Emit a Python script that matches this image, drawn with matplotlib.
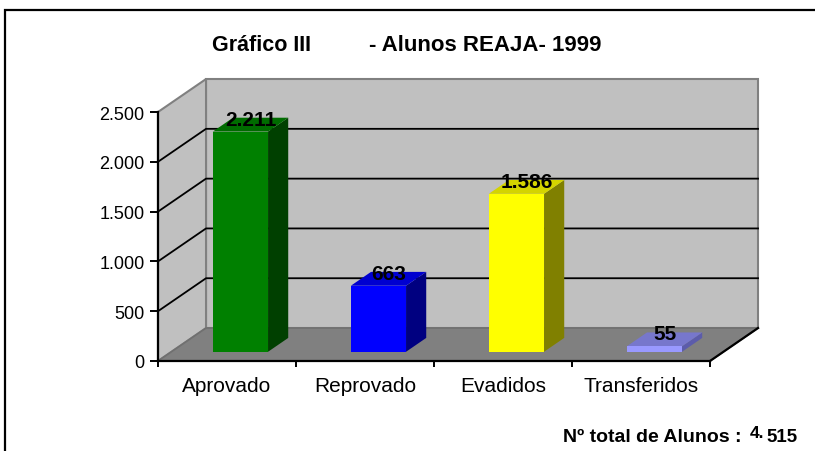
import numpy as np
import matplotlib
matplotlib.use("Agg")
from matplotlib import pyplot as plt
from matplotlib.patches import Polygon, Rectangle

plt.rcParams['font.family'] = ['Liberation Sans', 'DejaVu Sans']

# data
categories = ['Aprovado', 'Reprovado', 'Evadidos', 'Transferidos']
alunos = [2211, 663, 1586, 55]
yticks = [0, 500, 1000, 1500, 2000, 2500]
titulo_a = 'Gráfico III'
titulo_b = '- Alunos REAJA- 1999'

front_cols = ['#008000', '#0000ff', '#ffff00', '#9999ff']
top_cols = ['#006c00', '#0000d0', '#d4d400', '#7777cc']
side_cols = ['#004000', '#000080', '#808000', '#5c5cab']

# depth of the fake 3d box (in data units) and bar placement in it
DX, DY = 0.348, 331.0
d0, d1 = 0.28, 0.70
half_w = 0.2
ymax = 2500

fig = plt.figure(figsize=(8.15, 4.52), dpi=100)
ax = fig.add_axes([158 / 815, 90 / 452, 552 / 815, 249 / 452])
ax.set_xlim(0, len(categories))
ax.set_ylim(0, ymax)
ax.patch.set_visible(False)

n = len(categories)
# walls and floor
ax.add_patch(Polygon([(DX, DY), (n + DX, DY), (n + DX, ymax + DY), (DX, ymax + DY)],
                     closed=True, fc='#c0c0c0', ec='#808080', lw=1.5, clip_on=False, zorder=1))
ax.add_patch(Polygon([(0, 0), (DX, DY), (DX, ymax + DY), (0, ymax)],
                     closed=True, fc='#c0c0c0', ec='#808080', lw=1.5, clip_on=False, zorder=1))
ax.add_patch(Polygon([(0, 0), (n, 0), (n + DX, DY), (DX, DY)],
                     closed=True, fc='#808080', ec='#707070', lw=1.2, clip_on=False, zorder=1.5))
ax.plot([n, n + DX], [0, DY], color='black', lw=1.6, clip_on=False, zorder=2)

for v in yticks[1:-1]:
    ax.plot([0, DX, n + DX], [v, v + DY, v + DY], color='black', lw=1.3,
            clip_on=False, zorder=1.2)

# bars
for i, v in enumerate(alunos):
    xa = i + 0.5 - half_w
    xb = i + 0.5 + half_w
    ox0, oy0 = d0 * DX, d0 * DY
    ox1, oy1 = d1 * DX, d1 * DY
    front = [(xa + ox0, oy0), (xb + ox0, oy0), (xb + ox0, v + oy0), (xa + ox0, v + oy0)]
    top = [(xa + ox0, v + oy0), (xb + ox0, v + oy0), (xb + ox1, v + oy1), (xa + ox1, v + oy1)]
    side = [(xb + ox0, oy0), (xb + ox1, oy1), (xb + ox1, v + oy1), (xb + ox0, v + oy0)]
    for pts, c in [(side, side_cols[i]), (top, top_cols[i]), (front, front_cols[i])]:
        ax.add_patch(Polygon(pts, closed=True, fc=c, ec='none', clip_on=False, zorder=3))
    dm = 0.5 * (d0 + d1)
    ax.text(i + 0.5 + dm * DX, v + dm * DY, f'{v:,}'.replace(',', '.'),
            ha='center', va='baseline', fontsize=15, fontweight='bold', zorder=5)

# axes look
for s in ['top', 'right']:
    ax.spines[s].set_visible(False)
for s in ['left', 'bottom']:
    ax.spines[s].set_linewidth(1.6)
    ax.spines[s].set_zorder(4)
ax.set_yticks(yticks)
ax.set_yticklabels([f'{v:,}'.replace(',', '.') for v in yticks])
ax.tick_params(axis='y', length=5.8, width=1.4, pad=4, labelsize=13)
ax.set_xticks(np.arange(n + 1))
ax.set_xticklabels([])
ax.set_xticks(np.arange(n) + 0.5, minor=True)
ax.set_xticklabels(categories, minor=True)
ax.tick_params(axis='x', which='major', length=4.5, width=1.4)
ax.tick_params(axis='x', which='minor', length=0, pad=10.5, labelsize=15)

# titles and frame
fig.text(262 / 815, 401 / 452, titulo_a, ha='center', va='baseline',
         fontsize=15.5, fontweight='bold')
fig.text(485 / 815, 401 / 452, titulo_b, ha='center', va='baseline',
         fontsize=16, fontweight='bold')
fig.text(563 / 815, 10 / 452, 'Nº total de Alunos :', ha='left', va='baseline',
         fontsize=14, fontweight='bold')
total = str(sum(alunos))
fig.text(750 / 815, 14 / 452, total[0] + '.', ha='left', va='baseline',
         fontsize=12.5, fontweight='bold')
fig.text(766 / 815, 10 / 452, total[1:], ha='left', va='baseline',
         fontsize=13.5, fontweight='bold')
fig.patches.append(Rectangle((5 / 815, -0.2), 1.2, 441 / 452 + 0.2, transform=fig.transFigure,
                             fill=False, ec='black', lw=1.6))

fig.savefig('out.png', dpi=100)
